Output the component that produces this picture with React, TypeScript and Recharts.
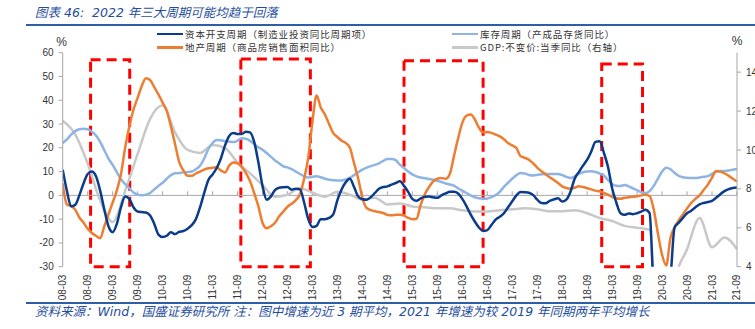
import React from 'react';
import { LineChart, Line, XAxis, YAxis, ReferenceLine, ReferenceArea } from 'recharts';

const W = 755;
const H = 329;

// month categories from 2008-03 to 2021-09
const months: string[] = Array.from({ length: 163 }, (_, i) => {
  const t = 2 + i;
  const yy = 8 + Math.floor(t / 12);
  const mm = (t % 12) + 1;
  return `${String(yy).padStart(2, '0')}-${String(mm).padStart(2, '0')}`;
});
const tickIndex: number[] = months.map((_, i) => i).filter((i) => i % 6 === 0);

// 资本开支周期（制造业投资同比周期项）, monthly, left axis
const capex: number[] = [
  10.8, 2, -4.6, -4, 0, 5, 9, 10, 8, 2, -6, -13,
  -15.5, -12, -5, -0.5, -1.5, -5, -6.8, -7, -7.2, -8.5, -12, -16.5,
  -17.5, -17, -15.5, -16.3, -15.3, -15, -14, -12.5, -10, -5, 1, 6.5,
  8.8, 11.5, 15.5, 21, 25, 26.2, 25.8, 25.8, 26.8, 26.5, 22.5, 14,
  4, -1.8, -0.5, 2.2, 3.2, 3.4, 3.5, 2.4, 2.8, 2.5, -3, -10,
  -13.3, -12.8, -10, -10, -9.5, -8, -2, 2.5, 5.5, 7, 3.5, -0.5,
  -1.6, -1.8, -0.8, 1, 2.8, 3.5, 3.8, 4.5, 5.2, 5.9, 4, 1.5,
  -1.5, -2.3, -1.3, -0.6, -0.5, -0.8, -1, 0, 0.8, 1.5, 1.5, 0.8,
  -1.5, -4.5, -8, -11, -13.5, -15, -14.6, -12.5, -10.2, -9, -7.5, -5,
  -2.5, 0, 1.4, 1.3, 1.1, 0.2, -1.8, -3.2, -3.3, -2.3, -1.7, -1.2,
  -2.6, -1.8, 1.5, 7, 9.8, 12.5, 15, 18.5, 22.5, 22.8, 18, 12,
  3, -3, -7.5, -8.2, -7.6, -7.9, -7.5, -6.8, -6, -7.5, -40, -50,
  -50, -45, -35, -13.5, -11.5, -9.5, -7.5, -6.5, -5, -3.8, -3.2, -2.8,
  -2.3, -1, 0.5, 1.8, 2.6, 3.1, 3.3,
];

// 地产周期（商品房销售面积同比）, monthly, left axis
const realEstate: number[] = [
  5, -3.8, -4.5, -6, -9.3, -11.5, -14, -15.8, -17, -18, -13, -8,
  -3, 2, 9, 20, 29, 36, 41, 46, 49.3, 48.5, 45.5, 42.5,
  39, 35.5, 29, 21.5, 14, 10.5, 8.2, 8.2, 9.2, 10, 10.8, 11.4,
  11.6, 11.8, 10.5, 9.6, 12.5, 13.8, 13.5, 12, 9.5, 6, 1, -4.5,
  -11.5, -13.8, -13, -11.5, -8.8, -6.8, -4.8, -3.5, -2, 0.5, 7, 16,
  31, 42, 37, 34, 30, 26.2, 24.5, 23, 22, 20, 13.5, 7,
  -1, -5.3, -6.2, -6.7, -7, -7.4, -8.2, -8.4, -8.2, -8.1, -8.5, -9.5,
  -10, -9.8, -4, 0.5, 3.5, 5.9, 7, 7.3, 7, 9, 16.5, 24,
  30.5, 33.5, 34, 32, 28.5, 26.5, 26.6, 26.3, 25.6, 24.8, 23.6, 22,
  21, 19.9, 16.5, 15.8, 15, 13.5, 11.7, 10.2, 8.9, 7.6, 6.5, 5.2,
  3.8, 3.1, 2.8, 3.2, 3.8, 3.5, 3, 2.5, 2, 1.7, 1, 0.3,
  -0.6, -1.2, -1.4, -1, -0.8, -0.6, -0.4, 0, 0.3, -0.3, -6, -16,
  -25, -29.5, -18, -13.5, -10.5, -8, -5.5, -3.2, -1.5, 0, 2.3, 4.5,
  7.5, 10.3, 10, 9.3, 8.2, 7, 5.8,
];

// 库存周期（产成品存货同比）, monthly, left axis
const inventory: number[] = [
  22, 23.5, 25.5, 27, 27.8, 28, 27.8, 26.8, 25.2, 22.5, 19, 15.5,
  12.8, 9.8, 6.8, 4.8, 3, 1.2, 0.3, 0, 0.3, 1, 2.5, 4,
  5.3, 7, 8.5, 9.3, 9.4, 9.7, 9.8, 10, 11, 12.5, 15.5, 19.5,
  22, 23.3, 23.2, 22.8, 22.6, 22.4, 23, 24, 23.8, 22.9, 21.5, 20.2,
  19.2, 17.8, 16.3, 14.7, 13.5, 12.2, 11.8, 11, 10, 9, 8, 7.5,
  7.8, 8, 7.6, 7, 6.6, 6.4, 6.2, 6.3, 6.7, 7.4, 8.5, 9.7,
  10.8, 11.7, 12.3, 12.8, 13.5, 14.5, 15.3, 15.3, 14.8, 12.9, 11.5, 10,
  8.8, 8, 7.5, 7.2, 6.9, 6.6, 6.1, 5.6, 5, 4.6, 4.1, 3,
  2, 1, 0, -0.8, -1.2, -1.4, -1.3, -0.7, 0.1, 1.5, 3.6, 5.3,
  7, 8.5, 9.4, 9.2, 8.6, 8.4, 8.6, 8.9, 9, 9, 9, 9,
  8.5, 7.8, 7.3, 8, 9.1, 9.7, 10, 10.1, 9.8, 9.2, 8.4, 6.5,
  4.8, 4, 3.9, 4.4, 3.8, 2.9, 2.2, 1.3, 1, 1.8, 4, 7,
  10, 11.6, 11, 9.5, 8.2, 7.6, 7.4, 7.3, 7.3, 7.5, 7.8, 8.1,
  9, 10, 10.2, 10.3, 10.5, 10.8, 11.1,
];

// GDP:不变价:当季同比（右轴）, quarterly (08-03, 08-06, ...), right axis
const gdpQuarterly: number[] = [
  11.5, 10.8, 9.3, 7.4, 6.3, 7.9, 9.8, 11.6, 12.3, 10.9, 10.0, 9.85,
  10.25, 10.1, 9.35, 8.8, 8.2, 7.6, 7.7, 8.05, 7.8, 7.6, 7.85, 7.7,
  7.45, 7.55, 7.2, 7.25, 7.1, 7.05, 7.0, 7.0, 6.9, 6.84, 6.84, 6.9,
  6.95, 7.0, 6.95, 6.85, 6.85, 6.9, 6.75, 6.5, 6.35, 6.1, 6.0, 5.9,
  -6.8, 3.2, 4.9, 6.5, 5.0, 5.5, 4.9,
];

// highlighted periods (red dashed boxes), in month index and left-axis units
const boxStart: number[] = [6.7, 42.8, 82, 129.5];
const boxEnd: number[] = [16.1, 59.5, 101, 139.3];
const boxTop: number[] = [57, 57.4, 56.6, 55.3];

const leftTicks = [-30, -20, -10, 0, 10, 20, 30, 40, 50, 60];
const rightTicks = [4, 6, 8, 10, 12, 14];

const data = months.map((m, i) => ({
  idx: i,
  month: m,
  capex: capex[i],
  realEstate: realEstate[i],
  inventory: inventory[i],
  gdp: i % 3 === 0 ? gdpQuarterly[i / 3] : null,
}));

const series = [
  { key: 'capex', name: '资本开支周期（制造业投资同比周期项）', color: '#0B3C8C', axis: 'left' },
  { key: 'inventory', name: '库存周期（产成品存货同比）', color: '#8EB4E3', axis: 'left' },
  { key: 'realEstate', name: '地产周期（商品房销售面积同比）', color: '#ED7D31', axis: 'left' },
  { key: 'gdp', name: 'GDP:不变价:当季同比（右轴）', color: '#C8C8C8', axis: 'right' },
];
const drawOrder = ['gdp', 'inventory', 'realEstate', 'capex'];

const legendPos = [
  { left: 157, top: 28.5 },
  { left: 452, top: 28.5 },
  { left: 157, top: 41.8 },
  { left: 452, top: 41.8 },
];

const CJK = "'Noto Sans CJK SC', 'Noto Sans', sans-serif";
const NUM = "'Liberation Sans', Arial, sans-serif";
const TITLE_FONT = "'DejaVu Sans', 'Noto Sans CJK SC', sans-serif";
const BLUE_TEXT = '#1F4E9E';
const RULE = '#2E5EA6';
const AXIS = '#A6A6A6';
const LABEL = '#333333';

const XTick = (props: any) => {
  const { x, y, payload } = props;
  return (
    <text
      x={x}
      y={y}
      transform={`rotate(-90, ${x}, ${y})`}
      textAnchor="end"
      dy="0.35em"
      fontSize={10}
      fontFamily={NUM}
      fill={LABEL}
    >
      {months[payload.value]}
    </text>
  );
};

export default function App() {
  return (
    <div style={{ position: 'absolute', left: 0, top: 0, width: W, height: H, background: '#fff', overflow: 'hidden' }}>
      <div style={{ position: 'absolute', left: 0, top: 0 }}>
        <LineChart
          width={W}
          height={H}
          data={data}
          margin={{ top: 52.7, right: 0, bottom: 0, left: 22.7 }}
        >
          <XAxis
            dataKey="idx"
            type="number"
            domain={[0, 162]}
            ticks={tickIndex}
            interval={0}
            axisLine={false}
            tickLine={false}
            tickSize={0}
            tickMargin={8}
            height={62.3}
            tick={<XTick />}
            allowDataOverflow
          />
          <YAxis
            yAxisId="left"
            orientation="left"
            domain={[-30, 60]}
            ticks={leftTicks}
            interval={0}
            width={40}
            allowDataOverflow
            axisLine={{ stroke: AXIS, strokeWidth: 1 }}
            tickLine={{ stroke: AXIS, strokeWidth: 1 }}
            tickSize={4}
            tickMargin={5}
            tick={{ fontSize: 10, fill: LABEL, fontFamily: NUM }}
          />
          <YAxis
            yAxisId="right"
            orientation="right"
            domain={[4, 15]}
            ticks={rightTicks}
            interval={0}
            width={18}
            allowDataOverflow
            axisLine={{ stroke: AXIS, strokeWidth: 1 }}
            tickLine={{ stroke: AXIS, strokeWidth: 1 }}
            tickSize={4}
            tickMargin={5}
            tick={{ fontSize: 10, fill: LABEL, fontFamily: NUM, textAnchor: 'start' }}
          />
          <ReferenceLine yAxisId="left" y={0} stroke={AXIS} strokeWidth={1} />
          {tickIndex.map((i) => (
            <ReferenceLine
              key={'t' + i}
              yAxisId="left"
              segment={[{ x: i, y: 0 }, { x: i, y: 1.7 }]}
              stroke={AXIS}
              strokeWidth={1}
            />
          ))}
          {drawOrder.map((k) => {
            const s = series.find((q) => q.key === k)!;
            return (
              <Line
                key={k}
                yAxisId={s.axis}
                type="monotone"
                dataKey={k}
                stroke={s.color}
                strokeWidth={2.5}
                dot={false}
                activeDot={false}
                connectNulls
                isAnimationActive={false}
              />
            );
          })}
          {boxStart.map((b, i) => (
            <ReferenceArea
              key={'b' + i}
              yAxisId="left"
              x1={b}
              x2={boxEnd[i]}
              y1={-30}
              y2={boxTop[i]}
              fill="none"
              fillOpacity={0}
              stroke="#FF0000"
              strokeWidth={3}
              strokeDasharray="10 6"
              ifOverflow="visible"
            />
          ))}
        </LineChart>
      </div>

      {/* title */}
      <div
        style={{
          position: 'absolute', left: 35, top: 2.7, lineHeight: '20px', fontSize: 12.5,
          fontStyle: 'italic', color: BLUE_TEXT, whiteSpace: 'pre', fontFamily: TITLE_FONT,
        }}
      >
        {'图表 46:  2022 年三大周期可能均趋于回落'}
      </div>
      <div style={{ position: 'absolute', left: 26, top: 24, width: W - 26, height: 2, background: RULE }} />

      {/* legend */}
      {series.map((s, i) => (
        <div key={s.key} style={{ position: 'absolute', left: legendPos[i].left, top: legendPos[i].top, height: 11, display: 'flex', alignItems: 'center' }}>
          <div style={{ width: 26, height: 2.5, background: s.color, marginRight: 2 }} />
          <div style={{ fontSize: 9.5, lineHeight: '11px', color: LABEL, fontFamily: CJK, whiteSpace: 'pre', letterSpacing: 0.9 }}>{s.name}</div>
        </div>
      ))}

      {/* units */}
      <div style={{ position: 'absolute', left: 54, top: 33.7, width: 15, textAlign: 'center', fontSize: 12, lineHeight: '16px', color: LABEL, fontFamily: NUM }}>%</div>
      <div style={{ position: 'absolute', left: 729.5, top: 33, width: 15, textAlign: 'center', fontSize: 12, lineHeight: '16px', color: LABEL, fontFamily: NUM }}>%</div>

      {/* footer */}
      <div style={{ position: 'absolute', left: 26, top: 302, width: W - 26, height: 1.5, background: RULE }} />
      <div
        style={{
          position: 'absolute', left: 35, top: 302.7, lineHeight: '18px', fontSize: 12.5,
          fontStyle: 'italic', color: BLUE_TEXT, whiteSpace: 'pre', fontFamily: TITLE_FONT,
        }}
      >
        {'资料来源：Wind，国盛证券研究所 注：图中增速为近 3 期平均，2021 年增速为较 2019 年同期两年平均增长'}
      </div>
    </div>
  );
}
